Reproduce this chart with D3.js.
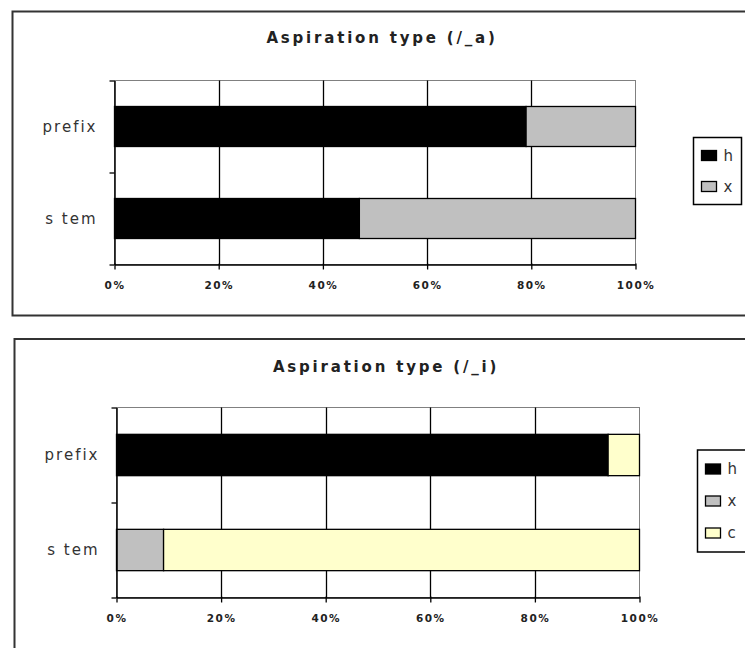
<!DOCTYPE html>
<html>
<head>
<meta charset="utf-8">
<script src="https://cdn.jsdelivr.net/npm/d3@7"></script>
<style>
  html, body { margin: 0; padding: 0; background: #fff; }
  svg { display: block; }
</style>
</head>
<body>
<svg id="chart" width="745" height="648"></svg>
<script>
// ---------- data ----------
const categories = ["prefix", "s tem"];
const tickValues = [0, 20, 40, 60, 80, 100];
const tickLabels = ["0%", "20%", "40%", "60%", "80%", "100%"];

const titleA = "Aspiration type (/_a)";
const seriesA = ["h", "x"];
const valuesA_h = [79, 47];
const valuesA_x = [21, 53];

const titleI = "Aspiration type (/_i)";
const seriesI = ["h", "x", "c"];
const valuesI_h = [94, 0];
const valuesI_x = [0, 9];
const valuesI_c = [6, 91];

const seriesColors = { h: "#000000", x: "#c0c0c0", c: "#ffffcc" };

// ---------- drawing ----------
const svg = d3.select("#chart");

function drawChart(cfg) {
  const g = svg.append("g");
  // outer frame
  g.append("rect")
    .attr("x", cfg.frame.x).attr("y", cfg.frame.y)
    .attr("width", cfg.frame.w).attr("height", cfg.frame.h)
    .attr("fill", "#fff").attr("stroke", "#333").attr("stroke-width", 2);

  // title
  g.append("text")
    .attr("x", cfg.titleX).attr("y", cfg.titleY)
    .attr("text-anchor", "middle")
    .attr("font-family", "DejaVu Sans, Verdana, sans-serif")
    .attr("font-weight", "bold").attr("font-size", 15)
    .attr("letter-spacing", 2.8)
    .attr("fill", "#222")
    .text(cfg.title);

  const x = d3.scaleLinear().domain([0, 100]).range([cfg.plot.l, cfg.plot.r]);
  const y = d3.scaleBand().domain(categories)
    .range([cfg.plot.t, cfg.plot.b]).paddingInner(0.565).paddingOuter(0.2825);

  // data rows
  const rows = categories.map((c, i) => {
    const r = { cat: c };
    cfg.series.forEach((s, k) => { r[s] = cfg.values[k][i]; });
    return r;
  });
  const stacked = d3.stack().keys(cfg.series)(rows);

  // plot area border
  g.append("rect")
    .attr("x", cfg.plot.l).attr("y", cfg.plot.t)
    .attr("width", cfg.plot.r - cfg.plot.l).attr("height", cfg.plot.b - cfg.plot.t)
    .attr("fill", "#fff").attr("stroke", "#808080").attr("stroke-width", 1);

  // gridlines
  g.append("g").selectAll("line").data(tickValues.slice(1, -1)).join("line")
    .attr("x1", d => Math.round(x(d)) + 0.5).attr("x2", d => Math.round(x(d)) + 0.5)
    .attr("y1", cfg.plot.t).attr("y2", cfg.plot.b)
    .attr("stroke", "#000").attr("stroke-width", 1.3);

  // bars
  g.append("g").selectAll("g").data(stacked).join("g")
    .attr("fill", d => seriesColors[d.key])
    .selectAll("rect").data(d => d.filter(p => p[1] - p[0] > 0)).join("rect")
    .attr("x", d => x(d[0])).attr("width", d => x(d[1]) - x(d[0]))
    .attr("y", d => y(d.data.cat)).attr("height", y.bandwidth())
    .attr("stroke", "#000").attr("stroke-width", 1.3);

  // x axis
  const xAxis = d3.axisBottom(x).tickValues(tickValues)
    .tickFormat((d, i) => tickLabels[i]).tickSize(5).tickSizeOuter(0);
  const xa = g.append("g").attr("transform", `translate(0,${cfg.plot.b})`).call(xAxis);
  xa.select(".domain").attr("stroke", "#000").attr("stroke-width", 1.5);
  xa.selectAll(".tick line").attr("stroke", "#000").attr("stroke-width", 1.3).attr("y1", -1);
  xa.selectAll(".tick text")
    .attr("y", 17).attr("dy", "0.71em")
    .attr("font-family", "DejaVu Sans, Verdana, sans-serif")
    .attr("font-weight", "bold").attr("font-size", 10.5)
    .attr("letter-spacing", 1.5)
    .attr("fill", "#222");

  // y axis (ticks at band boundaries)
  const yAxisScale = d3.scaleLinear().domain([0, categories.length]).range([cfg.plot.t, cfg.plot.b]);
  const yAxis = d3.axisLeft(yAxisScale).tickValues(d3.range(categories.length + 1))
    .tickFormat("").tickSize(5).tickSizeOuter(0);
  const ya = g.append("g").attr("transform", `translate(${cfg.plot.l},0)`).call(yAxis);
  ya.select(".domain").attr("stroke", "#000").attr("stroke-width", 1.5);
  ya.selectAll(".tick line").attr("stroke", "#000").attr("stroke-width", 1.3);

  // category labels
  g.append("g").selectAll("text").data(categories).join("text")
    .attr("x", cfg.plot.l - 17)
    .attr("y", d => y(d) + y.bandwidth() / 2)
    .attr("dy", "0.35em")
    .attr("text-anchor", "end")
    .attr("font-family", "DejaVu Sans, Verdana, sans-serif")
    .attr("font-size", 15)
    .attr("letter-spacing", 2)
    .attr("fill", "#333")
    .text(d => d);

  // legend
  const lg = g.append("g");
  lg.append("rect")
    .attr("x", cfg.legend.x).attr("y", cfg.legend.y)
    .attr("width", cfg.legend.w).attr("height", cfg.legend.h)
    .attr("fill", "#fff").attr("stroke", "#000").attr("stroke-width", 1.5);
  const ly = d3.scalePoint().domain(cfg.series)
    .range([cfg.legend.y + cfg.legend.pad, cfg.legend.y + cfg.legend.h - cfg.legend.pad]);
  const items = lg.selectAll("g").data(cfg.series).join("g")
    .attr("transform", d => `translate(${cfg.legend.x + 8},${ly(d)})`);
  items.append("rect")
    .attr("x", 0).attr("y", -5).attr("width", 15).attr("height", 10)
    .attr("fill", d => seriesColors[d]).attr("stroke", "#000").attr("stroke-width", 1.3);
  items.append("text")
    .attr("x", 22).attr("y", 0).attr("dy", "0.35em")
    .attr("font-family", "DejaVu Sans, Verdana, sans-serif")
    .attr("font-size", 15)
    .attr("fill", "#333")
    .text(d => d);
}

drawChart({
  title: titleA,
  series: seriesA,
  values: [valuesA_h, valuesA_x],
  frame: { x: 12.5, y: 11.5, w: 760, h: 304 },
  titleX: 382, titleY: 43,
  plot: { l: 114.5, r: 635.5, t: 80.5, b: 264.5 },
  legend: { x: 693.5, y: 137.5, w: 48, h: 67, pad: 18 }
});

drawChart({
  title: titleI,
  series: seriesI,
  values: [valuesI_h, valuesI_x, valuesI_c],
  frame: { x: 14.5, y: 339, w: 760, h: 330 },
  titleX: 386, titleY: 372,
  plot: { l: 116.5, r: 639.5, t: 407.5, b: 597.5 },
  legend: { x: 697.5, y: 450, w: 60, h: 102, pad: 19 }
});
</script>
</body>
</html>
